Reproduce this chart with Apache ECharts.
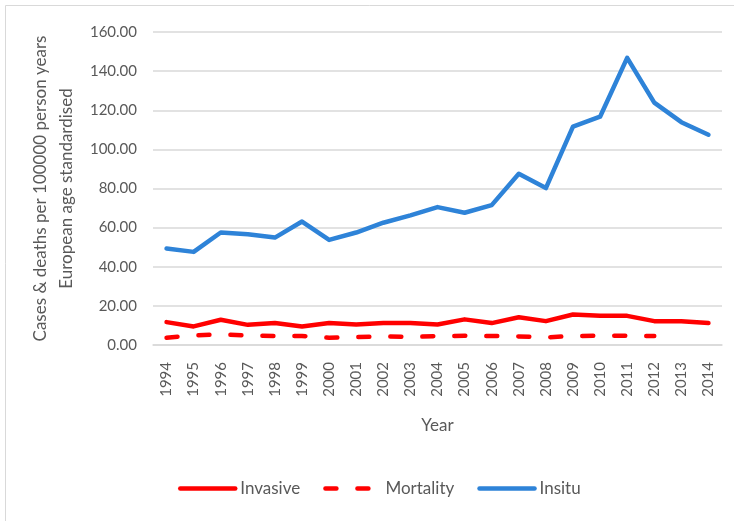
<!DOCTYPE html>
<html>
<head>
<meta charset="utf-8">
<script src="https://cdn.jsdelivr.net/npm/echarts@6/dist/echarts.min.js"></script>
<style>
html,body{margin:0;padding:0;background:#fff;}
#chart{width:734px;height:521px;}
</style>
</head>
<body>
<div id="chart"></div>
<script>
var years = ['1994','1995','1996','1997','1998','1999','2000','2001','2002','2003','2004','2005','2006','2007','2008','2009','2010','2011','2012','2013','2014'];
var invasive = [11.7, 9.5, 12.9, 10.3, 11.2, 9.5, 11.2, 10.5, 11.2, 11.2, 10.5, 13.1, 11.2, 14.2, 12.2, 15.6, 14.9, 14.9, 12.2, 12.2, 11.2];
var mortality = [3.7, 4.9, 5.4, 4.9, 4.6, 4.6, 3.7, 4.1, 4.4, 4.1, 4.6, 4.7, 4.6, 4.4, 3.9, 4.6, 4.7, 4.7, 4.6, null, null];
var insitu = [49.3, 47.6, 57.5, 56.6, 54.9, 63.1, 53.7, 57.5, 62.5, 66.3, 70.5, 67.6, 71.5, 87.5, 80.2, 111.6, 116.7, 146.8, 123.9, 113.9, 107.5];
var yTicks = [0, 20, 40, 60, 80, 100, 120, 140, 160];

var FONT = 'Lato';
var TXT = '#595959';
var chart = echarts.init(document.getElementById('chart'), null, {renderer: 'canvas'});
chart.setOption({
  backgroundColor: '#ffffff',
  animation: false,
  textStyle: {fontFamily: FONT, color: TXT},
  graphic: [
    {type: 'line', shape: {x1: 5.5, y1: 5.5, x2: 734, y2: 5.5}, style: {stroke: '#d9d9d9', lineWidth: 1}},
    {type: 'line', shape: {x1: 5.5, y1: 5.5, x2: 5.5, y2: 521}, style: {stroke: '#d9d9d9', lineWidth: 1}}
  ],
  grid: {left: 153, right: 12, top: 32, bottom: 176, containLabel: false},
  legend: {
    left: 178, top: 480, padding: 0,
    itemWidth: 55, itemHeight: 14, itemGap: 23,
    itemStyle: {opacity: 0},
    lineStyle: {width: 4.5, cap: 'round'},
    textStyle: {fontFamily: FONT, fontSize: 17, color: TXT},
    data: ['Invasive', 'Mortality', 'Insitu']
  },
  xAxis: {
    type: 'category',
    data: years,
    boundaryGap: true,
    axisLine: {show: true, lineStyle: {color: '#d9d9d9', width: 1.5}},
    axisTick: {show: false},
    axisLabel: {rotate: 90, fontSize: 15, color: TXT, margin: 17, fontFamily: FONT},
    name: 'Year',
    nameLocation: 'middle',
    nameGap: 72,
    nameTextStyle: {fontSize: 17, color: TXT, fontFamily: FONT}
  },
  yAxis: {
    type: 'value',
    min: yTicks[0], max: yTicks[yTicks.length - 1], interval: 20,
    axisLine: {show: false},
    axisTick: {show: false},
    splitLine: {lineStyle: {color: '#d9d9d9', width: 1.5}},
    axisLabel: {fontSize: 15, color: TXT, margin: 16, fontFamily: FONT,
      formatter: function (v) { return v.toFixed(2); }},
    name: 'Cases & deaths per 100000 person years\nEuropean age standardised',
    nameLocation: 'middle',
    nameRotate: 90,
    nameGap: 72,
    nameTextStyle: {fontSize: 17, color: TXT, fontFamily: FONT, lineHeight: 26, align: 'center'}
  },
  series: [
    {name: 'Invasive', type: 'line', data: invasive, symbol: 'none', showSymbol: false,
     lineStyle: {color: '#ff0000', width: 4.5, cap: 'round', join: 'round'}, itemStyle: {color: '#ff0000'}},
    {name: 'Mortality', type: 'line', data: mortality, symbol: 'none', showSymbol: false,
     lineStyle: {color: '#ff0000', width: 4.5, type: [11, 21], cap: 'round', join: 'round'}, itemStyle: {color: '#ff0000'}},
    {name: 'Insitu', type: 'line', data: insitu, symbol: 'none', showSymbol: false,
     lineStyle: {color: '#2e83d8', width: 4.5, cap: 'round', join: 'round'}, itemStyle: {color: '#2e83d8'}}
  ]
});
</script>
</body>
</html>
